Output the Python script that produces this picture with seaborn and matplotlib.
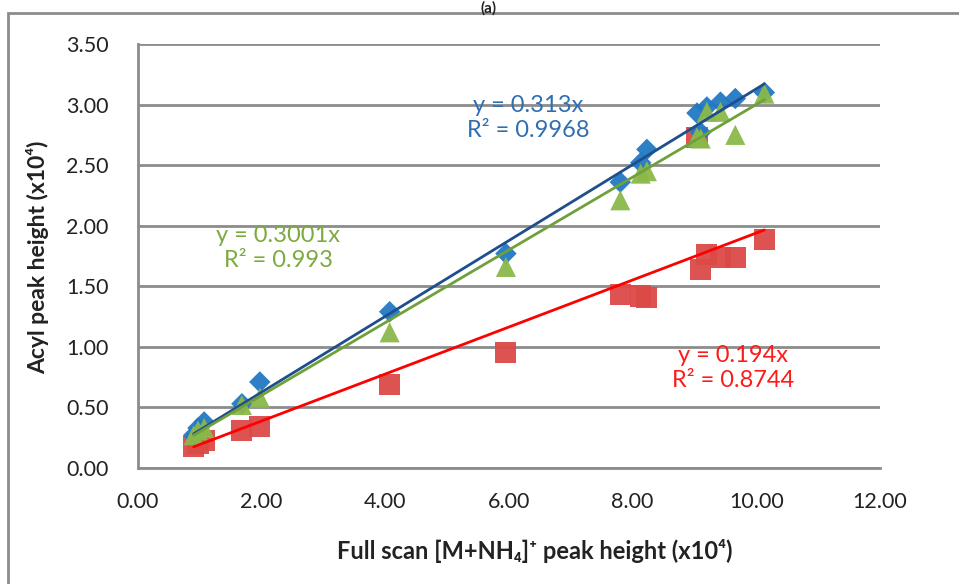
import matplotlib.pyplot as plt
from matplotlib.patches import Rectangle
import seaborn as sns
import numpy as np
import pandas as pd

# full scan [M+NH4]+ peak height (x10^4), shared by the three series
full_scan = [0.90, 0.97, 1.07, 1.68, 1.97, 4.07, 5.95, 7.80, 8.13, 8.23,
             9.04, 9.10, 9.20, 9.42, 9.66, 10.13]
blue_y = [0.27, 0.33, 0.38, 0.53, 0.71, 1.29, 1.77, 2.36, 2.52, 2.63,
          2.93, 2.77, 2.98, 3.02, 3.05, 3.10]
red_y = [0.18, 0.20, 0.23, 0.31, 0.34, 0.69, 0.95, 1.43, 1.42, 1.41,
         2.73, 1.64, 1.76, 1.74, 1.74, 1.89]
green_y = [0.27, 0.31, 0.33, 0.52, 0.58, 1.12, 1.66, 2.21, 2.43, 2.45,
           2.73, 2.72, 2.94, 2.94, 2.75, 3.09]

series = ['red', 'blue', 'green']
slopes = {'blue': 0.313, 'green': 0.3001, 'red': 0.194}
r2 = {'blue': '0.9968', 'green': '0.993', 'red': '0.8744'}
eq_pos = {'blue': (6.31, 2.89), 'green': (2.27, 1.815), 'red': (9.63, 0.825)}

marker_color = {'blue': '#2179C3', 'red': '#DC4A47', 'green': '#8AB94A'}
line_color = {'blue': '#1F4E8C', 'red': '#FF0000', 'green': '#6FA03A'}
text_color = {'blue': '#2F6EB0', 'red': '#FF1A1A', 'green': '#7BAA3F'}
markers = {'blue': 'D', 'red': 's', 'green': '^'}
sizes = {'blue': 120, 'red': 230, 'green': 210}

ys = {'blue': blue_y, 'red': red_y, 'green': green_y}
dt = pd.concat([pd.DataFrame({'x': full_scan, 'y': ys[s], 'type': s}) for s in series])

sns.set_theme(style="white")
plt.rcParams['font.family'] = ['Lato', 'DejaVu Sans']

fig = plt.figure(figsize=(9.59, 5.84), dpi=100)
ax = fig.add_axes([138/959, 1 - 468/584, 742/959, 424/584])

for s in series:
    d = dt[dt['type'] == s]
    sns.scatterplot(data=d, x='x', y='y', marker=markers[s], s=sizes[s],
                    color=marker_color[s], edgecolor='none', alpha=0.95,
                    ax=ax, zorder=3, legend=False)

# trendlines through origin, drawn across the data range
for s in ['blue', 'green', 'red']:
    xs = np.array([min(full_scan), max(full_scan)])
    ax.plot(xs, slopes[s] * xs, color=line_color[s], lw=2, zorder=4)
    tx, ty = eq_pos[s]
    ax.text(tx, ty, f'y = {slopes[s]}x\nR² = {r2[s]}', color=text_color[s],
            ha='center', va='center', fontsize=17, linespacing=1.2, zorder=5)

ax.set_xlim(0, 12)
ax.set_ylim(0, 3.5)
ax.set_xticks(np.arange(0, 12.1, 2))
ax.set_yticks(np.arange(0, 3.51, 0.5))
ax.set_xticklabels([f'{v:.2f}' for v in np.arange(0, 12.1, 2)])
ax.set_yticklabels([f'{v:.2f}' for v in np.arange(0, 3.51, 0.5)])
ax.yaxis.grid(True, color='#8C8C8C', lw=2)
ax.set_axisbelow(True)
for side in ['top', 'right']:
    ax.spines[side].set_visible(False)
for side in ['left', 'bottom']:
    ax.spines[side].set_color('#8C8C8C')
    ax.spines[side].set_linewidth(2)
ax.tick_params(axis='both', direction='inout', length=10, width=2, color='#8C8C8C',
               labelsize=15.5, labelcolor='#222222', pad=16)
ax.tick_params(axis='x', pad=12)
ax.set_xlabel('')
ax.set_ylabel('')

fig.text(535/959, 1 - 551/584, 'Full scan [M+NH₄]⁺ peak height (x10⁴)',
         ha='center', va='center', fontsize=17, fontweight='bold', color='#222222')
fig.text(38/959, 1 - 257/584, 'Acyl peak height (x10⁴)', rotation=90,
         ha='center', va='center', fontsize=16.5, fontweight='bold', color='#222222')
fig.text(489/959, 1 - 1/584, '(a)', ha='center', va='top', fontsize=11,
         fontweight='bold', color='#222222')

# outer chart frame, running off the right and bottom edges
fig.patches.append(Rectangle((8/959, -0.2), 1.1, 1.2 - 13/584, transform=fig.transFigure,
                             fill=False, edgecolor='#8C8C8C', lw=2))

plt.savefig('out.png', dpi=100)
